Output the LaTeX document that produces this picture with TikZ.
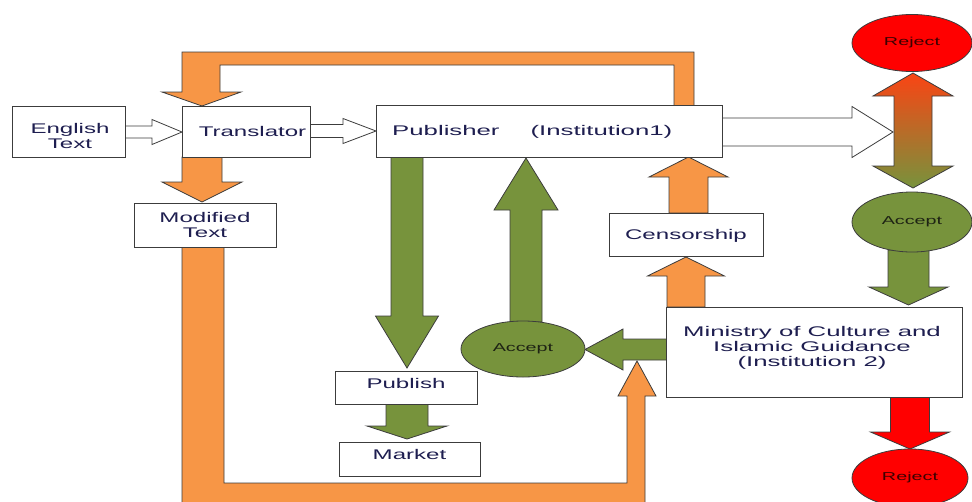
\documentclass[tikz,border=0pt]{standalone}
\usepackage{fontspec}
\setmainfont{Liberation Sans}[FakeStretch=1.72]
\newfontfamily\widefont{Liberation Sans}[FakeStretch=1.84]
\usetikzlibrary{shapes.geometric}
\definecolor{org}{HTML}{F79646}
\definecolor{olv}{HTML}{77933C}
\definecolor{rd}{HTML}{FF0000}
\definecolor{edgec}{HTML}{3C3C3C}
\definecolor{txt}{HTML}{1E1E50}
\definecolor{redtop}{HTML}{FA4414}
\definecolor{rejtxt}{HTML}{3C0000}
\definecolor{acctxt}{HTML}{1E2314}
\newcommand\vArrow[7]{% style, xc, ystart, ybase, ytip, s, h
 \path[#1] ({#2-#6},#3) -- ({#2-#6},#4) -- ({#2-#7},#4) -- (#2,#5) -- ({#2+#7},#4) -- ({#2+#6},#4) -- ({#2+#6},#3) -- cycle;}
\newcommand\hArrow[7]{% style, yc, xstart, xbase, xtip, s, h
 \path[#1] (#3,{#2-#6}) -- (#4,{#2-#6}) -- (#4,{#2-#7}) -- (#5,#2) -- (#4,{#2+#7}) -- (#4,{#2+#6}) -- (#3,{#2+#6}) -- cycle;}
\newcommand\mainsz{\fontsize{14}{15}\selectfont}
\newcommand\smallsz{\fontsize{11.5}{13}\selectfont}
\begin{document}
\begin{tikzpicture}[x=1pt,y=-1pt,
  orangearrow/.style={fill=org, draw=edgec, line width=0.8},
  greenarrow/.style={fill=olv, draw=edgec, line width=0.8},
  redarrow/.style={fill=rd, draw=edgec, line width=0.8},
  hollow/.style={fill=white, draw=edgec, line width=0.8},
  box/.style={draw=edgec, line width=1, fill=white, rectangle, inner sep=0pt, text=txt, font=\mainsz, align=center},
  lbl/.style={text=txt, font=\mainsz, align=center, inner sep=0pt},
  oval/.style={draw=edgec, line width=0.8, ellipse, inner sep=0pt, font=\smallsz}]
\useasboundingbox (0,0) rectangle (972,501);
\clip (0,0) rectangle (972,501);
% top orange loop (Publisher -> Translator)
\path[orangearrow] (694,106) -- (694,52) -- (182,52) -- (182,92) -- (162,92) -- (202,106) -- (241,92) -- (220,92) -- (220,65) -- (674,65) -- (674,106) -- cycle;
% hollow arrows
\hArrow{hollow}{132}{125}{152}{182}{6}{12.5}
\hArrow{hollow}{131}{310}{343}{376}{6.5}{12.5}
\hArrow{hollow}{132}{722}{852}{893}{14}{25.5}
% translator -> modified
\vArrow{orangearrow}{202}{157}{182}{202}{20}{40}
% green arrows
\vArrow{greenarrow}{407}{157}{316}{368}{16}{31.5}
\vArrow{greenarrow}{407}{404}{426}{439}{21}{40}
\vArrow{greenarrow}{526}{322}{210}{158}{16}{32}
\hArrow{greenarrow}{349.5}{667}{623}{585}{10.5}{20.5}
\vArrow{greenarrow}{908.5}{250}{287}{305}{20.5}{39.5}
% orange up arrows
\vArrow{orangearrow}{688.5}{213}{177}{157}{19.5}{39.5}
\vArrow{orangearrow}{686}{307}{276}{257}{19}{38.5}
% red arrow
\vArrow{redarrow}{910}{397}{432}{449}{19.5}{39.5}
% double gradient arrow
\shade[top color=redtop, bottom color=olv] (894,96) -- (873,96) -- (913,73) -- (953,96) -- (932,96) -- (932,166) -- (953,166) -- (913,188) -- (873,166) -- (894,166) -- cycle;
\draw[edgec, line width=0.8] (894,96) -- (873,96) -- (913,73) -- (953,96) -- (932,96) -- (932,166) -- (953,166) -- (913,188) -- (873,166) -- (894,166) -- cycle;
% bottom orange loop (Modified Text -> Ministry arrow)
\path[orangearrow] (182,247) -- (182,515) -- (645,515) -- (645,396) -- (656,396) -- (637,361) -- (618,396) -- (627,396) -- (627,483) -- (224,483) -- (224,247) -- cycle;
% boxes
\node[box, minimum width=113, minimum height=51] (eng) at (68.5,131.5) {};
\node[lbl] (engt) at (70,136) {English\\Text};
\node[box, minimum width=128, minimum height=51] (tra) at (246,131.5) {};
\node[lbl] (trat) at (252.5,131) {Translator};
\node[box, minimum width=142, minimum height=44] (mod) at (205,225) {Modified\\Text};
\node[box, minimum width=346, minimum height=52] (pub) at (549,131) {};
\node[lbl, font=\mainsz\widefont, anchor=west] (pubt) at (392,131.5) {Publisher\hspace{31pt}(Institution1)};
\node[box, minimum width=154, minimum height=43, text depth=0pt] (cen) at (686,234.5) {Censorship};
\node[box, minimum width=296, minimum height=90] (min) at (814,352) {};
\node[lbl, font=\mainsz\widefont] (mint) at (812,348) {Ministry of Culture and\\Islamic Guidance\\(Institution 2)};
\node[box, minimum width=142, minimum height=33, text depth=8pt] (pbl) at (406,387.5) {Publish};
\node[box, minimum width=141, minimum height=34, text depth=9pt] (mkt) at (409.5,459) {Market};
% ellipses
\node[oval, fill=rd, text=rejtxt, minimum width=120, minimum height=57] (rej1) at (912,43) {Reject};
\node[oval, fill=olv, text=acctxt, minimum width=120, minimum height=60] (acc1) at (912,222) {Accept};
\node[oval, fill=olv, text=acctxt, minimum width=124, minimum height=56] (acc2) at (523,349) {Accept};
\node[oval, fill=rd, text=rejtxt, minimum width=116, minimum height=58] (rej2) at (910,478) {Reject};
\end{tikzpicture}
\end{document}
